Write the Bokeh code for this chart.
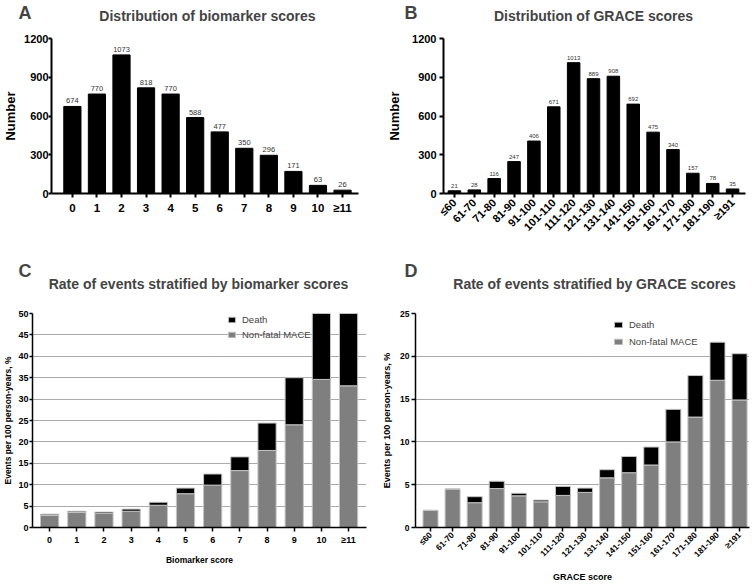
import math
from bokeh.plotting import figure
from bokeh.layouts import column, row
from bokeh.models import Label, Range1d, FixedTicker, Legend, LegendItem
from bokeh.embed import file_html
from bokeh.resources import INLINE

FONT = "Liberation Sans"

bio_labels = ["0", "1", "2", "3", "4", "5", "6", "7", "8", "9", "10", "≥11"]
bio_counts = [674, 770, 1073, 818, 770, 588, 477, 350, 296, 171, 63, 26]
grace_labels = ["≤60", "61-70", "71-80", "81-90", "91-100", "101-110", "111-120",
                "121-130", "131-140", "141-150", "151-160", "161-170", "171-180",
                "181-190", "≥191"]
grace_counts = [21, 28, 116, 247, 406, 671, 1013, 889, 908, 692, 475, 340, 157, 78, 35]

bio_mace = [2.8, 3.5, 3.3, 3.8, 5.2, 7.9, 9.9, 13.3, 18.0, 24.0, 34.6, 33.1]
bio_total = [3.1, 3.8, 3.6, 4.3, 5.9, 9.2, 12.5, 16.5, 24.4, 35.0, 50.0, 50.0]
grace_mace = [2.0, 4.5, 2.9, 4.55, 3.7, 3.0, 3.75, 4.1, 5.8, 6.4, 7.3, 10.0, 12.9, 17.2, 14.9]
grace_total = [2.0, 4.5, 3.6, 5.4, 4.0, 3.2, 4.8, 4.6, 6.75, 8.3, 9.4, 13.8, 17.75, 21.65, 20.3]

panel_titles = ["Distribution of biomarker scores", "Distribution of GRACE scores",
                "Rate of events stratified by biomarker scores",
                "Rate of events stratified by GRACE scores"]
panel_letters = ["A", "B", "C", "D"]

W_LEFT, W_RIGHT = 376, 376


def header(h, letters, titles, letter_xy, title_xy):
    p = figure(width=W_LEFT + W_RIGHT, height=h, x_range=Range1d(0, W_LEFT + W_RIGHT),
               y_range=Range1d(h, 0), x_axis_type=None, y_axis_type=None,
               output_backend="svg", toolbar_location=None, title=None,
               min_border=0, min_border_left=0, min_border_right=0,
               min_border_top=0, min_border_bottom=0)
    p.outline_line_color = None
    p.grid.visible = False
    for t, (x, y) in zip(letters, letter_xy):
        p.add_layout(Label(x=x, y=y, text=t, text_font=FONT, text_font_size="18px",
                           text_font_style="bold", text_align="left", text_baseline="middle"))
    for t, (x, y) in zip(titles, title_xy):
        p.add_layout(Label(x=x, y=y, text=t, text_font=FONT, text_font_size="14px",
                           text_font_style="bold", text_align="center", text_baseline="middle"))
    return p


def style_axes(p, lw, tick_size, lab_size, labels, orient=None):
    for ax in (p.xaxis[0], p.yaxis[0]):
        ax.axis_line_width = lw
        ax.major_tick_line_width = lw
        ax.major_tick_in = 0
        ax.major_tick_out = 4
        ax.minor_tick_line_color = None
        ax.major_label_text_font = FONT
        ax.major_label_text_font_style = "bold"
        ax.major_label_text_font_size = tick_size
        ax.major_label_text_color = "black"
        ax.axis_label_text_font = FONT
        ax.axis_label_text_font_style = "bold"
        ax.axis_label_text_font_size = lab_size
        ax.axis_label_text_color = "black"
        ax.major_label_standoff = 3
        ax.axis_label_standoff = 6
    xs = list(range(len(labels)))
    p.xaxis.ticker = FixedTicker(ticks=xs)
    p.xaxis.major_label_overrides = {i: t for i, t in enumerate(labels)}
    if orient is not None:
        p.xaxis.major_label_orientation = orient
    p.outline_line_color = None
    p.xgrid.visible = False


def dotted_grid(p):
    p.ygrid.grid_line_color = "#555555"
    p.ygrid.grid_line_dash = "1 1"
    p.ygrid.grid_line_width = 1


# headers
h1 = header(28, panel_letters[:2], panel_titles[:2],
            [(18, 12), (404, 12)], [(207, 15), (593, 15)])
h2 = header(45, panel_letters[2:], panel_titles[2:],
            [(18, 15), (404, 15)], [(198, 28), (594, 28)])

# ---------------- Panel A ----------------
xa = list(range(len(bio_labels)))
pA = figure(width=W_LEFT, height=227, x_range=Range1d(-0.85, 11.65), y_range=Range1d(0, 1200),
            output_backend="svg", toolbar_location=None, title=None,
            min_border_left=49, min_border_right=18, min_border_top=10, min_border_bottom=62)
pA.vbar(x=xa, top=bio_counts, width=0.7, fill_color="black", line_color="black")
pA.text(x=xa, y=bio_counts, text=[str(c) for c in bio_counts], y_offset=-3,
        text_align="center", text_baseline="bottom", text_font_size="7.5px",
        text_color="#333333", text_font={"value": FONT})
style_axes(pA, 2, "11.5px", "13px", bio_labels)
pA.ygrid.visible = False
pA.yaxis.ticker = FixedTicker(ticks=[0, 300, 600, 900, 1200])
pA.yaxis.axis_label = "Number"
pA.yaxis.major_tick_out = 3
pA.yaxis.major_label_standoff = 0
pA.yaxis.major_label_text_font_size = "11px"
pA.yaxis.axis_label_standoff = 3
pA.xaxis.major_label_standoff = 4

# ---------------- Panel B ----------------
xb = list(range(len(grace_labels)))
pB = figure(width=W_RIGHT, height=227, x_range=Range1d(-0.55, 14.65), y_range=Range1d(0, 1200),
            output_backend="svg", toolbar_location=None, title=None,
            min_border_left=67, min_border_right=7, min_border_top=10, min_border_bottom=61)
pB.vbar(x=xb, top=grace_counts, width=0.63, fill_color="black", line_color="black")
pB.text(x=xb, y=grace_counts, text=[str(c) for c in grace_counts], y_offset=-3,
        text_align="center", text_baseline="bottom", text_font_size="6px",
        text_color="#333333", text_font={"value": FONT})
style_axes(pB, 2, "11px", "13px", grace_labels, orient=math.pi / 4)
pB.ygrid.visible = False
pB.yaxis.ticker = FixedTicker(ticks=[0, 300, 600, 900, 1200])
pB.yaxis.axis_label = "Number"
pB.yaxis.major_label_standoff = 3
pB.yaxis.axis_label_standoff = 7

# ---------------- Panel C ----------------
xc = list(range(len(bio_labels)))
pC = figure(width=W_LEFT, height=284, x_range=Range1d(-0.63, 11.66), y_range=Range1d(0, 50),
            output_backend="svg", toolbar_location=None, title=None,
            min_border_left=32, min_border_right=10, min_border_top=13, min_border_bottom=48)
style_axes(pC, 1.5, "9px", "8.5px", bio_labels)
dotted_grid(pC)
pC.yaxis.ticker = FixedTicker(ticks=list(range(0, 51, 5)))
pC.yaxis.axis_label = "Events per 100 person-years, %"
pC.yaxis.axis_label_standoff = 2
pC.yaxis.major_label_standoff = 1
pC.yaxis.major_tick_out = 3
pC.xaxis.axis_label = "Biomarker score"
pC.xaxis.axis_label_standoff = 7
rc1 = pC.vbar(x=xc, bottom=0, top=bio_mace, width=0.67, fill_color="#7f7f7f", line_color="#c4c4c4")
rc2 = pC.vbar(x=xc, bottom=bio_mace, top=bio_total, width=0.67, fill_color="black", line_color="#c4c4c4")
legC = Legend(items=[LegendItem(label="Death", renderers=[rc2]),
                     LegendItem(label="Non-fatal MACE", renderers=[rc1])],
              location=(195, 187), padding=0, spacing=4, glyph_width=9, glyph_height=7,
              label_height=10, label_standoff=6, label_text_font=FONT, label_text_font_size="9.5px",
              background_fill_alpha=0, border_line_color=None)
pC.add_layout(legC)

# ---------------- Panel D ----------------
xd = list(range(len(grace_labels)))
pD = figure(width=W_RIGHT, height=284, x_range=Range1d(-0.68, 14.45), y_range=Range1d(0, 25),
            output_backend="svg", toolbar_location=None, title=None,
            min_border_left=39, min_border_right=3, min_border_top=13, min_border_bottom=48)
style_axes(pD, 1.5, "8.5px", "9px", grace_labels, orient=math.pi / 4)
dotted_grid(pD)
pD.yaxis.ticker = FixedTicker(ticks=[0, 5, 10, 15, 20, 25])
pD.yaxis.axis_label = "Events per 100 person-years, %"
pD.yaxis.axis_label_standoff = 5
pD.yaxis.major_label_standoff = 2
pD.xaxis.axis_label = "GRACE score"
pD.xaxis.axis_label_standoff = 6
pD.xaxis.major_label_standoff = 2
rd1 = pD.vbar(x=xd, bottom=0, top=grace_mace, width=0.68, fill_color="#7f7f7f", line_color="#c4c4c4")
rd2 = pD.vbar(x=xd, bottom=grace_mace, top=grace_total, width=0.68, fill_color="black", line_color="#c4c4c4")
legD = Legend(items=[LegendItem(label="Death", renderers=[rd2]),
                     LegendItem(label="Non-fatal MACE", renderers=[rd1])],
              location=(198, 180), padding=0, spacing=6, glyph_width=10, glyph_height=7,
              label_height=10, label_standoff=6, label_text_font=FONT, label_text_font_size="9.5px",
              background_fill_alpha=0, border_line_color=None)
pD.add_layout(legD)

layout = column(h1, row(pA, pB), h2, row(pC, pD))
open("out.html", "w").write(file_html(layout, INLINE))
